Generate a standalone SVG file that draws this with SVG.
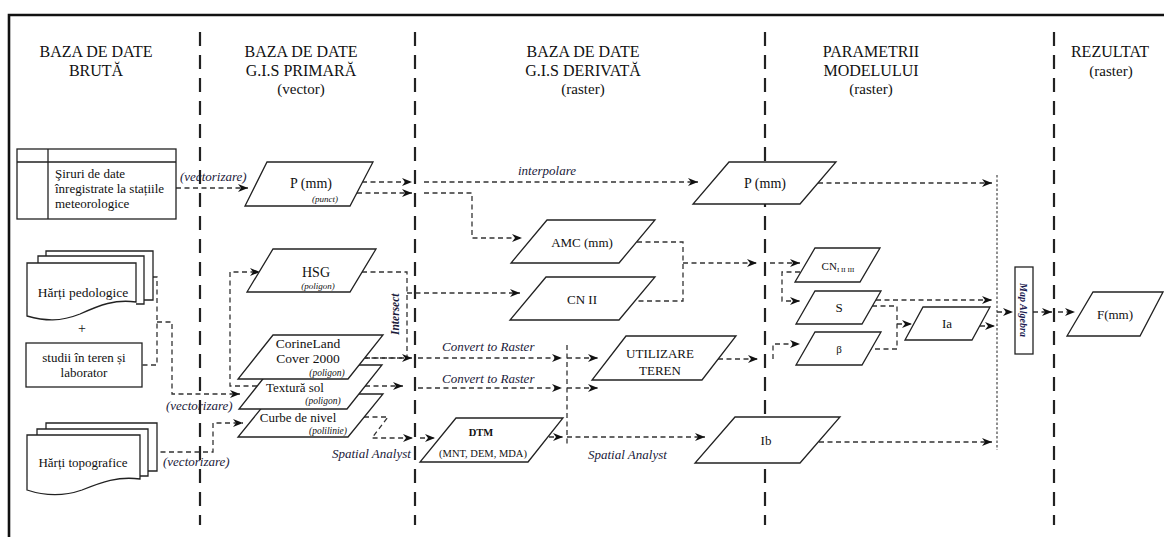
<svg xmlns="http://www.w3.org/2000/svg" width="1164" height="537" viewBox="0 0 1164 537">
<style>
text{font-family:"Liberation Serif","Times New Roman",serif;fill:#111}
.h{font-size:16px;text-anchor:middle}
.n{font-size:13px;text-anchor:middle}
.s{font-size:10px;font-style:italic;text-anchor:middle}
.l{font-size:13px;font-style:italic;fill:#1a1a3a}
.node{fill:#fff;stroke:#222;stroke-width:1.3}
.div{stroke:#222;stroke-width:2.2;stroke-dasharray:14 9;fill:none}
.c{fill:none;stroke:#333;stroke-width:1.3;stroke-dasharray:5 3.5}
.a{marker-end:url(#ah)}
</style>
<defs>
<marker id="ah" markerUnits="userSpaceOnUse" markerWidth="11" markerHeight="9" refX="10" refY="4" orient="auto">
<path d="M0,0 L10,4 L0,8 L3,4 z" fill="#111"/>
</marker>
</defs>
<rect width="1164" height="537" fill="#fff"/>
<g id="frame" stroke="#111" stroke-width="2.6" fill="none">
<path d="M9,537 V15 H1164"/>
</g>
<g id="columns">
<path class="div" d="M200,32 V525"/>
<path class="div" d="M415,32 V525"/>
<path class="div" d="M765,32 V525"/>
<path class="div" d="M1054,32 V525"/>
<line x1="997" y1="175" x2="997" y2="450" stroke="#555" stroke-width="1.3" stroke-dasharray="2.5 2"/>
</g>
<g id="headers">
<text class="h" x="96" y="57">BAZA DE DATE</text>
<text class="h" x="96" y="76">BRUTĂ</text>
<text class="h" x="301" y="57">BAZA DE DATE</text>
<text class="h" x="301" y="76">G.I.S PRIMARĂ</text>
<text class="h" x="301" y="94" style="font-size:15px">(vector)</text>
<text class="h" x="583" y="57">BAZA DE DATE</text>
<text class="h" x="583" y="76">G.I.S DERIVATĂ</text>
<text class="h" x="583" y="94" style="font-size:15px">(raster)</text>
<text class="h" x="871" y="57">PARAMETRII</text>
<text class="h" x="871" y="76">MODELULUI</text>
<text class="h" x="871" y="94" style="font-size:15px">(raster)</text>
<text class="h" x="1110" y="57">REZULTAT</text>
<text class="h" x="1111" y="76" style="font-size:15px">(raster)</text>
</g>
<g id="connectors">
<path class="c a" d="M176,188 H248"/>
<path class="c a" d="M362,182 H412"/>
<path class="c a" d="M357,193 H412"/>
<path class="c a" d="M424,182 H698"/>
<path class="c a" d="M424,193 H472 V238 H522"/>
<path class="c" d="M637,242 H683 V301 H635"/>
<path class="c a" d="M683,263 H757"/>
<path class="c a" d="M770,263 H800"/>
<path class="c a" d="M800,272 H782 V301 H800"/>
<path class="c a" d="M718,359 H758"/>
<path class="c a" d="M773,359 V344 H800"/>
<path class="c a" d="M876,300 H992"/>
<path class="c" d="M872,306 H897 V349 H871"/>
<path class="c a" d="M897,324 H912"/>
<path class="c a" d="M980,326 H995"/>
<path class="c a" d="M818,183 H992"/>
<path class="c a" d="M819,442 H992"/>
<path class="c a" d="M997,312 H1013"/>
<path class="c a" d="M1033,312 H1052"/>
<path class="c a" d="M1058,312 H1075"/>
<path class="c" d="M144,277 H157 V365 H142"/>
<path class="c a" d="M157,322 H172 V394 H240"/>
<path class="c a" d="M152,452 H213 V423 H243"/>
<path class="c a" d="M257,386 H230 V272 H260"/>
<path class="c" d="M362,272 H407 V358 H365"/>
<path class="c a" d="M407,293 H520"/>
<path class="c a" d="M365,358 H412"/>
<path class="c a" d="M418,358 H562"/>
<path class="c" d="M567,345 V445"/>
<path class="c a" d="M567,358 H598"/>
<path class="c a" d="M567,388 H598"/>
<path class="c a" d="M365,386 H403"/>
<path class="c a" d="M418,388 H562"/>
<path class="c a" d="M364,417 H388 L372,438 H413"/>
<path class="c a" d="M420,438 H435"/>
<path class="c a" d="M549,437 H563"/>
<path class="c a" d="M567,437 H705"/>
</g>
<g id="labels">
<text class="l" x="180" y="181">(vectorizare)</text>
<text class="l" x="166" y="410">(vectorizare)</text>
<text class="l" x="163" y="466">(vectorizare)</text>
<text class="l" x="518" y="175">interpolare</text>
<text class="l" x="442" y="351">Convert to Raster</text>
<text class="l" x="442" y="383">Convert to Raster</text>
<text class="l" x="332" y="458">Spatial Analyst</text>
<text class="l" x="588" y="459">Spatial Analyst</text>
<text class="l" transform="translate(399,335) rotate(-90)" style="font-size:11.5px;font-weight:bold">Intersect</text>
</g>
<g id="siruri">
<rect class="node" x="17" y="149" width="159" height="70"/>
<path d="M17,162 H176 M48,149 V219" stroke="#222" stroke-width="1.3" fill="none"/>
<text x="55" y="178" style="font-size:13px">Şiruri de date</text>
<text x="55" y="193" style="font-size:13px">înregistrate la stațiile</text>
<text x="55" y="208" style="font-size:13px">meteorologice</text>
</g>
<g id="harti-pedologice">
<path class="node" d="M46,256 V251 H153 V300 H144"/>
<path class="node" d="M38,263 V256 H144 V304 H136"/>
<path class="node" d="M27,263 H136 V302 C115,299 100,305 80,314 C60,322 45,321 27,316 Z"/>
<text class="n" x="83" y="297" style="font-size:13.5px">Hărți pedologice</text>
</g>
<text class="n" x="82" y="333" style="font-size:14px">+</text>
<g id="studii">
<rect class="node" x="26" y="343" width="116" height="44"/>
<text class="n" x="84" y="362">studii în teren și</text>
<text class="n" x="84" y="377">laborator</text>
</g>
<g id="harti-topografice">
<path class="node" d="M46,429 V423 H157 V471 H148"/>
<path class="node" d="M37,435 V429 H148 V476 H140"/>
<path class="node" d="M27,435 H140 V479 C118,476 102,482 82,490 C62,497 45,496 27,490 Z"/>
<text class="n" x="83" y="467">Hărți topografice</text>
</g>
<g id="p-punct">
<polygon class="node" points="267,162 373,162 350,206 245,206"/>
<text class="n" x="311" y="188" style="font-size:14px">P (mm)</text>
<text class="s" x="325" y="202" style="font-size:9px">(punct)</text>
</g>
<g id="hsg">
<polygon class="node" points="273,249 376,249 350,292 247,292"/>
<text class="n" x="316" y="277" style="font-size:14px">HSG</text>
<text class="s" x="318" y="289" style="font-size:9px">(poligon)</text>
</g>
<g id="curbe">
<polygon class="node" points="273,394 383,394 348,437 238,437"/>
<text class="n" x="298" y="422">Curbe de nivel</text>
<text class="s" x="328" y="434" style="font-size:9.5px">(polilinie)</text>
</g>
<g id="textura">
<polygon class="node" points="274,365 382,365 347,409 239,409"/>
<text class="n" x="295" y="392">Textură sol</text>
<text class="s" x="323" y="404" style="font-size:9.5px">(poligon)</text>
</g>
<g id="corine">
<polygon class="node" points="273,335 383,335 348,379 238,379"/>
<text class="n" x="308" y="348" style="font-size:13.5px">CorineLand</text>
<text class="n" x="308" y="363" style="font-size:13.5px">Cover 2000</text>
<text class="s" x="327" y="376" style="font-size:9.5px">(poligon)</text>
</g>
<g id="amc">
<polygon class="node" points="547,220 655,220 619,263 511,263"/>
<text class="n" x="582" y="247">AMC (mm)</text>
</g>
<g id="cn2">
<polygon class="node" points="546,277 655,277 619,320 510,320"/>
<text class="n" x="582" y="304">CN II</text>
</g>
<g id="utilizare">
<polygon class="node" points="626,336 736,336 702,380 592,380"/>
<text class="n" x="660" y="358">UTILIZARE</text>
<text class="n" x="660" y="375">TEREN</text>
</g>
<g id="dtm">
<polygon class="node" points="456,418 563,418 528,462 420,462"/>
<text class="n" x="481" y="436" style="font-size:10.5px;font-weight:bold">DTM</text>
<text class="n" x="483" y="457" style="font-size:10.5px">(MNT, DEM, MDA)</text>
</g>
<g id="p-raster">
<polygon class="node" points="729,162 836,162 800,204 693,204"/>
<text class="n" x="765" y="188" style="font-size:14px">P (mm)</text>
</g>
<g id="ib">
<polygon class="node" points="735,417 840,417 800,463 695,463"/>
<text class="n" x="766" y="445">Ib</text>
</g>
<g id="cn123">
<polygon class="node" points="815,248 880,248 860,282 795,282"/>
<text class="n" x="838" y="270" style="font-size:11px">CN<tspan style="font-size:7px" dy="2">I II III</tspan></text>
</g>
<g id="s">
<polygon class="node" points="815,291 881,291 862,324 796,324"/>
<text class="n" x="839" y="312">S</text>
</g>
<g id="beta">
<polygon class="node" points="815,332 881,332 862,365 796,365"/>
<text class="n" x="839" y="353" style="font-size:11px">β</text>
</g>
<g id="ia">
<polygon class="node" points="923,307 990,307 972,340 905,340"/>
<text class="n" x="947" y="328">Ia</text>
</g>
<g id="map-algebra">
<rect class="node" x="1015" y="267" width="18" height="87"/>
<text transform="translate(1020,310) rotate(90)" style="font-size:10px;font-style:italic;font-weight:bold;text-anchor:middle;fill:#1a1a50">Map Algebra</text>
</g>
<g id="f">
<polygon class="node" points="1093,292 1163,292 1140,336 1067,336"/>
<text class="n" x="1115" y="319">F(mm)</text>
</g>
</svg>
